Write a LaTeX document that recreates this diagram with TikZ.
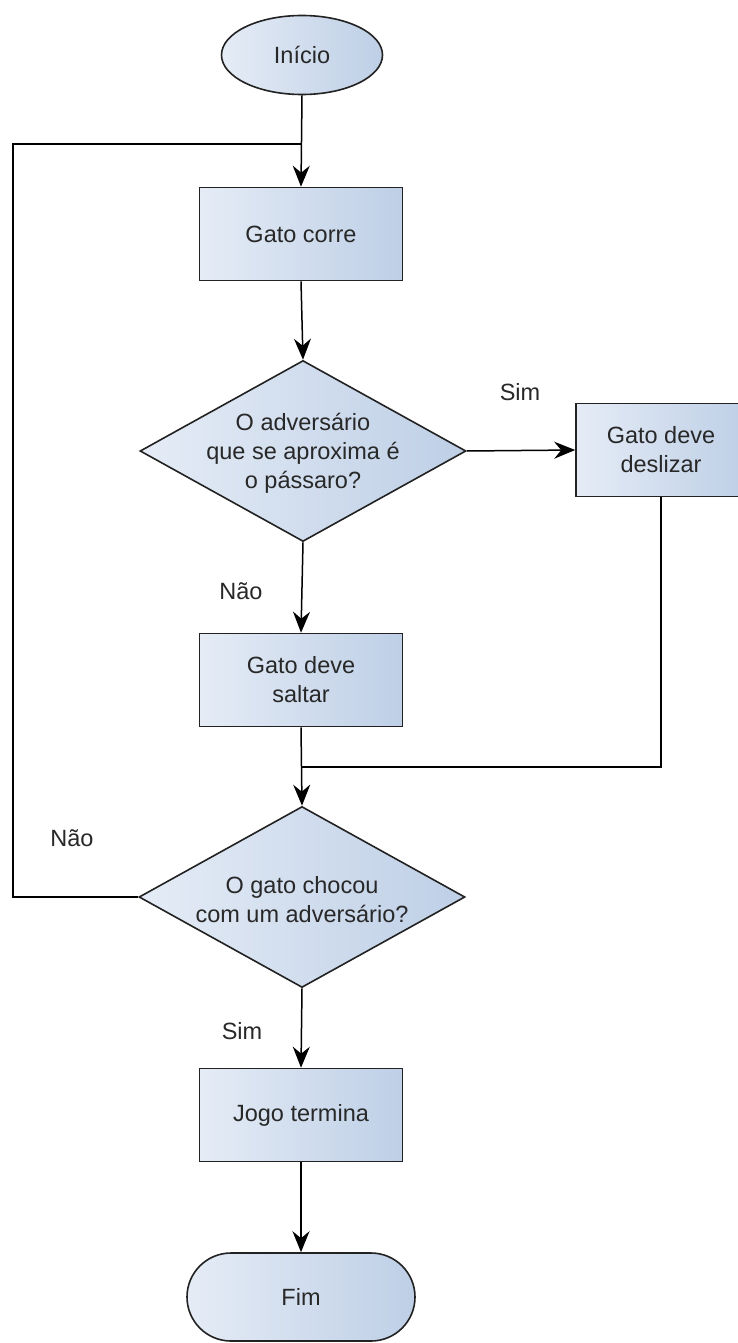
\documentclass[tikz,border=0pt]{standalone}
\usepackage{fontspec}
\setmainfont{Liberation Sans}
\usetikzlibrary{shapes.geometric,shapes.misc,arrows.meta}
\definecolor{fillL}{RGB}{229,236,246}
\definecolor{fillR}{RGB}{190,207,230}
\definecolor{edgeC}{RGB}{34,34,34}
\definecolor{txtC}{RGB}{40,40,40}
\tikzset{
  shaded/.style={draw=edgeC, line width=1.6pt, left color=fillL, right color=fillR,
    text=txtC, align=center, inner sep=0pt},
  procbox/.style={shaded, rectangle, minimum width=203pt, minimum height=93pt},
  decision/.style={shaded, diamond, minimum width=326pt, minimum height=181pt},
  terminal/.style={shaded, ellipse, minimum width=161pt, minimum height=79pt},
  endcap/.style={shaded, rounded rectangle, minimum width=228pt, minimum height=88pt},
  dtext/.style={text=txtC, align=center, inner sep=0pt},
  lbl/.style={text=txtC, inner sep=0pt},
  flow/.style={draw=black, line width=1.5pt, -{Stealth[length=21pt, width=17pt, inset=7pt]}},
  plain/.style={draw=black, line width=1.5pt}
}
\begin{document}
\begin{tikzpicture}[x=1pt, y=-1pt, font=\fontsize{23.5}{29}\selectfont]
\clip (0,0) rectangle (738,1343);
\fill[white] (0,0) rectangle (738,1343);

% nodes
\node[terminal] (inicio) at (302,55) {Início};
\node[procbox] (corre) at (301,234) {Gato corre};
\node[decision] (d1) at (303,451) {};
\node[dtext] (d1t) at (303,453) {O adversário\\que se aproxima é\\o pássaro?};
\node[procbox, minimum width=170pt] (desliza) at (661,450) {Gato deve\\deslizar};
\node[procbox] (salta) at (301,680) {Gato deve\\saltar};
\node[decision] (d2) at (302,897) {};
\node[dtext] (d2t) at (302,900) {O gato chocou\\com um adversário?};
\node[procbox] (fim1) at (301,1115) {Jogo termina};
\node[endcap] (fim) at (301,1297) {Fim};

% branch labels
\node[lbl] (sim1) at (520,392) {Sim};
\node[lbl] (nao1) at (241,591) {Não};
\node[lbl] (nao2) at (72,838) {Não};
\node[lbl] (sim2) at (242,1031) {Sim};

% junction points
\coordinate (j1) at (302,144);
\coordinate (j2) at (302,767);
\coordinate (loopx) at (13,0);

% connectors
\draw[flow] (inicio.south) -- (corre.north);
\draw[flow] (corre.south) -- (d1.north);
\draw[flow] (d1.east) -- (desliza.west);
\draw[flow] (d1.south) -- (salta.north);
\draw[flow] (salta.south) -- (d2.north);
\draw[plain] (desliza.south) |- (j2);
\draw[plain] (d2.west) -- (d2.west -| loopx) |- (j1);
\draw[flow] (d2.south) -- (fim1.north);
\draw[flow] (fim1.south) -- (fim.north);
\end{tikzpicture}
\end{document}
